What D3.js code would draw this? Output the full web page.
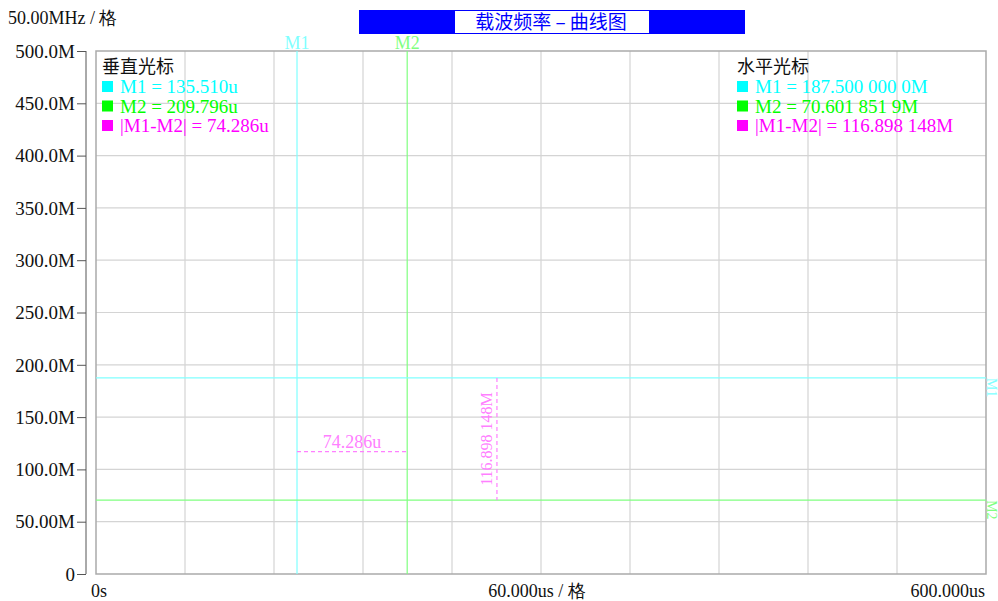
<!DOCTYPE html>
<html>
<head>
<meta charset="utf-8">
<script src="https://cdn.jsdelivr.net/npm/d3@7"></script>
<style>
  body { margin: 0; background: #fff; }
  svg { display: block; }
  .serif { font-family: "Liberation Serif", "DejaVu Serif", serif; }
  .cjk { font-family: "Noto Sans CJK SC", sans-serif; }
</style>
</head>
<body>
<div id="chart"></div>
<script>
// Achsen / Raster
const yTicks = [0, 50, 100, 150, 200, 250, 300, 350, 400, 450, 500];
const yTickLabels = ["0", "50.00M", "100.0M", "150.0M", "200.0M", "250.0M", "300.0M", "350.0M", "400.0M", "450.0M", "500.0M"];
const xGrid = [0, 60, 120, 180, 240, 300, 360, 420, 480, 540, 600];

// Cursor-Werte
const vCursors = [{name: "M1", t: 135.510}, {name: "M2", t: 209.796}];   // us
const hCursors = [{name: "M1", f: 187.5000000}, {name: "M2", f: 70.6018519}]; // MHz
const deltaT = 74.286;
const deltaF = 116.898148;
const deltaMarkerT = 270.3; // x-Position der senkrechten Differenzlinie

const vLegend = ["M1 = 135.510u", "M2 = 209.796u", "|M1-M2| = 74.286u"];
const hLegend = ["M1 = 187.500 000 0M", "M2 = 70.601 851 9M", "|M1-M2| = 116.898 148M"];
const legendColors = ["#00ffff", "#00ff00", "#ff00ff"];

const width = 998, height = 601;
const pLeft = 96, pRight = 986, pTop = 51, pBottom = 574;

const svg = d3.select("#chart").append("svg")
  .attr("width", width)
  .attr("height", height);

const x = d3.scaleLinear().domain([0, 600]).range([pLeft, pRight]);
const y = d3.scaleLinear().domain([0, 500]).range([pBottom, pTop]);

// Raster
svg.append("g").selectAll("line")
  .data(xGrid.slice(1, -1))
  .enter().append("line")
  .attr("x1", d => x(d)).attr("x2", d => x(d))
  .attr("y1", pTop).attr("y2", pBottom)
  .attr("stroke", "#d4d4d4").attr("stroke-width", 1.2);

svg.append("g").selectAll("line")
  .data(yTicks.slice(1, -1))
  .enter().append("line")
  .attr("x1", pLeft).attr("x2", pRight)
  .attr("y1", d => y(d)).attr("y2", d => y(d))
  .attr("stroke", "#d4d4d4").attr("stroke-width", 1.2);

// Rahmen
svg.append("rect")
  .attr("x", pLeft).attr("y", pTop)
  .attr("width", pRight - pLeft).attr("height", pBottom - pTop)
  .attr("fill", "none").attr("stroke", "#aaa").attr("stroke-width", 1.5);

// Y-Achse
const yAxis = svg.append("g")
  .attr("transform", "translate(86,0)")
  .call(d3.axisLeft(y).tickValues(yTicks).tickSize(9).tickPadding(2)
    .tickFormat((d, i) => yTickLabels[i]));
yAxis.select(".domain").attr("stroke", "#555").attr("d", `M0,${pTop}V${pBottom}`);
yAxis.selectAll(".tick line").attr("stroke", "#555");
yAxis.selectAll("text")
  .attr("class", "serif")
  .style("font-size", "19px")
  .attr("fill", "#111")
  .attr("dy", "0.33em");

// Cursor-Linien
svg.append("line")
  .attr("x1", x(vCursors[0].t)).attr("x2", x(vCursors[0].t))
  .attr("y1", pTop).attr("y2", pBottom)
  .attr("stroke", "#80ffff").attr("stroke-width", 1.2);
svg.append("line")
  .attr("x1", x(vCursors[1].t)).attr("x2", x(vCursors[1].t))
  .attr("y1", pTop).attr("y2", pBottom)
  .attr("stroke", "#80ff80").attr("stroke-width", 1.2);
svg.append("line")
  .attr("x1", pLeft).attr("x2", pRight)
  .attr("y1", y(hCursors[0].f)).attr("y2", y(hCursors[0].f))
  .attr("stroke", "#80ffff").attr("stroke-width", 1.2);
svg.append("line")
  .attr("x1", pLeft).attr("x2", pRight)
  .attr("y1", y(hCursors[1].f)).attr("y2", y(hCursors[1].f))
  .attr("stroke", "#80ff80").attr("stroke-width", 1.2);

// Cursor-Beschriftung oben
svg.selectAll(".vlab")
  .data(vCursors)
  .enter().append("text")
  .attr("class", "serif")
  .attr("x", d => x(d.t)).attr("y", 49)
  .attr("text-anchor", "middle")
  .style("font-size", "18px")
  .attr("fill", (d, i) => i === 0 ? "#80ffff" : "#80ff80")
  .text(d => d.name);

// Cursor-Beschriftung rechts (gedreht)
svg.selectAll(".hlab")
  .data(hCursors)
  .enter().append("text")
  .attr("class", "serif")
  .attr("transform", d => `translate(987,${y(d.f)}) rotate(90)`)
  .attr("x", 0).attr("y", 0)
  .style("font-size", "14px")
  .attr("fill", (d, i) => i === 0 ? "#80ffff" : "#80ff80")
  .text(d => d.name);

// Differenz-Linien
svg.append("line")
  .attr("x1", x(vCursors[0].t)).attr("x2", x(vCursors[1].t))
  .attr("y1", y(deltaF)).attr("y2", y(deltaF))
  .attr("stroke", "#ff80ff").attr("stroke-width", 1.2)
  .attr("stroke-dasharray", "4,3");
svg.append("text")
  .attr("class", "serif")
  .attr("x", (x(vCursors[0].t) + x(vCursors[1].t)) / 2)
  .attr("y", y(deltaF) - 4)
  .attr("text-anchor", "middle")
  .style("font-size", "18px")
  .attr("fill", "#ff80ff")
  .text(deltaT.toFixed(3) + "u");

svg.append("line")
  .attr("x1", x(deltaMarkerT)).attr("x2", x(deltaMarkerT))
  .attr("y1", y(hCursors[0].f)).attr("y2", y(hCursors[1].f))
  .attr("stroke", "#ff80ff").attr("stroke-width", 1.2)
  .attr("stroke-dasharray", "4,3");
svg.append("text")
  .attr("class", "serif")
  .attr("transform", `translate(${x(deltaMarkerT) - 5},${(y(hCursors[0].f) + y(hCursors[1].f)) / 2}) rotate(-90)`)
  .attr("text-anchor", "middle")
  .style("font-size", "16px")
  .attr("fill", "#ff80ff")
  .text("116.898 148M");

// Legenden
function legend(x0, title, rows) {
  const g = svg.append("g");
  g.append("text")
    .attr("class", "cjk")
    .attr("x", x0).attr("y", 73)
    .style("font-size", "18px")
    .attr("fill", "#111")
    .text(title);
  rows.forEach((r, i) => {
    g.append("rect")
      .attr("x", x0).attr("y", 81 + i * 19.5)
      .attr("width", 11).attr("height", 11)
      .attr("fill", legendColors[i]);
    g.append("text")
      .attr("class", "serif")
      .attr("x", x0 + 18).attr("y", 93 + i * 19.5)
      .style("font-size", "19px")
      .attr("fill", legendColors[i])
      .text(r);
  });
}
legend(102, "垂直光标", vLegend);
legend(737, "水平光标", hLegend);

// Titel
svg.append("rect")
  .attr("x", 359).attr("y", 10).attr("width", 386).attr("height", 24)
  .attr("fill", "#0000ff");
svg.append("rect")
  .attr("x", 455).attr("y", 11).attr("width", 194).attr("height", 22)
  .attr("fill", "#fff");
svg.append("text")
  .attr("class", "cjk")
  .attr("x", 551).attr("y", 28.5)
  .attr("text-anchor", "middle")
  .style("font-size", "19px")
  .attr("fill", "#0000ff")
  .text("载波频率 – 曲线图");

// Skalen-Texte
svg.append("text")
  .attr("class", "serif")
  .attr("x", 8).attr("y", 24)
  .style("font-size", "18px")
  .attr("fill", "#111")
  .text("50.00MHz / 格");

svg.append("text")
  .attr("class", "serif")
  .attr("x", 91).attr("y", 597)
  .style("font-size", "18px")
  .attr("fill", "#111")
  .text("0s");
svg.append("text")
  .attr("class", "serif")
  .attr("x", 537).attr("y", 597)
  .attr("text-anchor", "middle")
  .style("font-size", "18px")
  .attr("fill", "#111")
  .text("60.000us / 格");
svg.append("text")
  .attr("class", "serif")
  .attr("x", 985).attr("y", 597)
  .attr("text-anchor", "end")
  .style("font-size", "18px")
  .attr("fill", "#111")
  .text("600.000us");
</script>
</body>
</html>
